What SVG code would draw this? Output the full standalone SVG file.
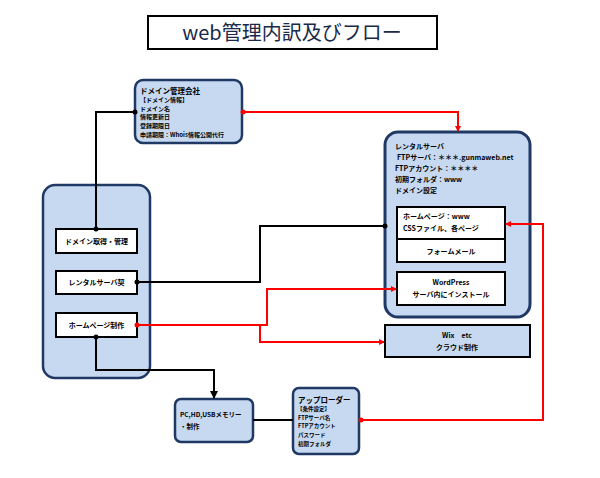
<svg xmlns="http://www.w3.org/2000/svg" width="600" height="478" viewBox="0 0 600 478">
<defs>
<style>
text{font-family:"Noto Sans CJK JP","Noto Sans",sans-serif;fill:#000;font-weight:bold}
.blue{fill:#c6d9f1;stroke:#1f3864;stroke-width:2.5}
.wbox{fill:#fff;stroke:#000;stroke-width:2}
.blk{fill:none;stroke:#000;stroke-width:2}
.red{fill:none;stroke:#ff0000;stroke-width:2}
.s7{font-size:7px}
.s6{font-size:6px}
.s55{font-size:5.5px}
.s75{font-size:7.5px}
</style>
<marker id="ar" markerWidth="6" markerHeight="6" refX="5" refY="3" orient="auto" markerUnits="userSpaceOnUse"><path d="M0,0 L6,3 L0,6 z" fill="#ff0000"/></marker>
<marker id="ab" markerWidth="8" markerHeight="8" refX="7" refY="4" orient="auto" markerUnits="userSpaceOnUse"><path d="M0,0 L8,4 L0,8 z" fill="#000"/></marker>
</defs>
<rect width="600" height="478" fill="#fff"/>

<g id="title">
<rect x="148" y="16" width="289" height="33" fill="#fff" stroke="#000" stroke-width="2"/>
<text x="292" y="40" text-anchor="middle" style="font-size:20px;font-weight:normal;fill:#1a2a4a">web管理内訳及びフロー</text>
</g>

<g id="domain-company">
<rect class="blue" x="135" y="80" width="107" height="63" rx="8"/>
<text class="s75" x="140" y="94">ドメイン管理会社</text>
<text class="s6" x="140" y="102">【ドメイン情報】</text>
<text class="s6" x="140" y="111">ドメイン名</text>
<text class="s6" x="140" y="119">情報更新日</text>
<text class="s6" x="140" y="128">登録期限日</text>
<text class="s6" x="140" y="137">申請期限：Whois情報公開代行</text>
</g>

<g id="left-container">
<rect class="blue" x="43" y="185" width="107" height="193" rx="12"/>
</g>
<g id="domain-acquire">
<rect class="wbox" x="56" y="229" width="81" height="24"/>
<text class="s7" x="96.5" y="244" text-anchor="middle">ドメイン取得・管理</text>
</g>
<g id="rental-contract">
<rect class="wbox" x="56" y="271" width="81" height="23"/>
<text class="s7" x="96.5" y="285" text-anchor="middle">レンタルサーバ契</text>
</g>
<g id="homepage-make">
<rect class="wbox" x="56" y="313" width="81" height="24"/>
<text class="s7" x="96.5" y="328" text-anchor="middle">ホームページ制作</text>
</g>

<g id="rental-server">
<rect x="385" y="132" width="145" height="185" rx="13" fill="#c6d9f1" stroke="#1f3864" stroke-width="3"/>
<text class="s7" x="395" y="149">レンタルサーバ</text>
<text class="s7" x="397" y="160">FTPサーバ：＊＊＊.gunmaweb.net</text>
<text class="s7" x="395" y="171">FTPアカウント：＊＊＊＊</text>
<text class="s7" x="395" y="182">初期フォルダ：www</text>
<text class="s7" x="395" y="193">ドメイン設定</text>
</g>
<g id="homepage-www">
<rect class="wbox" x="397" y="207" width="108" height="55"/>
<line x1="397" y1="239" x2="505" y2="239" stroke="#000" stroke-width="2"/>
<text class="s7" x="403" y="219">ホームページ：www</text>
<text class="s7" x="403" y="231">CSSファイル、各ページ</text>
<text class="s7" x="451" y="254" text-anchor="middle">フォームメール</text>
</g>
<g id="wordpress">
<rect class="wbox" x="397" y="272" width="108" height="33"/>
<text class="s7" x="451" y="285" text-anchor="middle">WordPress</text>
<text class="s7" x="451" y="297" text-anchor="middle">サーバ内にインストール</text>
</g>
<g id="wix">
<rect x="385" y="325" width="145" height="32" fill="#c6d9f1" stroke="#000" stroke-width="2"/>
<text class="s7" x="457" y="338" text-anchor="middle">Wix　etc</text>
<text class="s7" x="457" y="350" text-anchor="middle">クラウド制作</text>
</g>

<g id="pc">
<rect class="blue" x="175" y="399" width="78" height="43" rx="6"/>
<text style="font-size:6.5px" x="180" y="417">PC,HD,USBメモリー</text>
<text style="font-size:6.5px" x="180" y="429">・制作</text>
</g>

<g id="uploader">
<rect class="blue" x="293" y="388" width="66" height="66" rx="6"/>
<text class="s75" x="298" y="403">アップローダー</text>
<text class="s55" x="297" y="411">【条件設定】</text>
<text class="s55" x="298" y="420">FTPサーバ名</text>
<text class="s55" x="298" y="428">FTPアカウント</text>
<text class="s55" x="298" y="437">パスワード</text>
<text class="s55" x="298" y="446">初期フォルダ</text>
</g>

<g id="connectors">
<polyline class="blk" points="135,112 96,112 96,229"/>
<circle cx="135" cy="112" r="2.5" fill="#000"/>
<circle cx="96" cy="229" r="2.5" fill="#000"/>

<polyline class="blk" points="137,282 260,282 260,226 385,226"/>
<circle cx="137" cy="282" r="2.5" fill="#000"/>
<circle cx="385" cy="226" r="2.5" fill="#000"/>

<polyline class="blk" points="96,337 96,370 214,370 214,398" marker-end="url(#ab)"/>
<circle cx="96" cy="337" r="2.5" fill="#000"/>

<line class="blk" x1="253" y1="420" x2="293" y2="420"/>

<polyline class="red" points="242,112 458,112 458,131" marker-end="url(#ar)"/>
<circle cx="243" cy="112" r="2.5" fill="#ff0000"/>

<polyline class="red" points="137,325 267,325 267,289 396,289" marker-end="url(#ar)"/>
<polyline class="red" points="260,325 260,342 384,342" marker-end="url(#ar)"/>
<circle cx="137" cy="325" r="2.5" fill="#ff0000"/>

<polyline class="red" points="360,420 543,420 543,224 506,224" marker-end="url(#ar)"/>
<circle cx="361" cy="420" r="2.5" fill="#ff0000"/>
</g>
</svg>
